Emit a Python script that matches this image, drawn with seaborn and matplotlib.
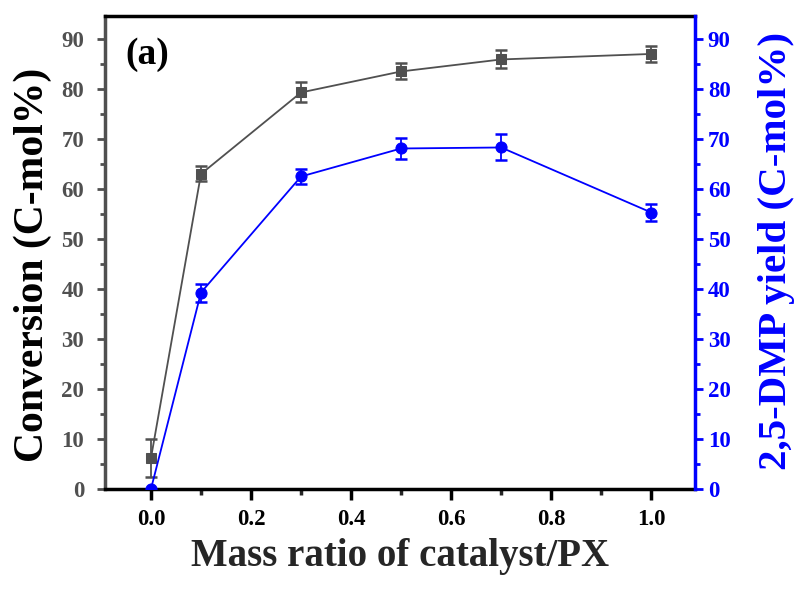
import matplotlib
matplotlib.use("Agg")
import matplotlib.pyplot as plt
import seaborn as sns
import pandas as pd
from matplotlib.ticker import MultipleLocator

# ---- data ----
mass_ratio = [0.0, 0.1, 0.3, 0.5, 0.7, 1.0]
conversion = [6.2, 63.0, 79.3, 83.5, 85.9, 87.0]
conversion_err = [3.8, 1.5, 2.0, 1.6, 1.8, 1.6]
dmp_yield = [0.0, 39.3, 62.5, 68.1, 68.3, 55.3]
dmp_yield_err = [0.0, 1.8, 1.5, 2.1, 2.6, 1.7]
x_ticks = [0.0, 0.2, 0.4, 0.6, 0.8, 1.0]
x_ticklabels = ["0.0", "0.2", "0.4", "0.6", "0.8", "1.0"]
y_ticks = [0, 10, 20, 30, 40, 50, 60, 70, 80, 90]

df = pd.DataFrame({"ratio": mass_ratio, "conv": conversion, "conv_err": conversion_err,
                   "yld": dmp_yield, "yld_err": dmp_yield_err})

sns.set_style("ticks")
plt.rcParams['font.family'] = ['Liberation Serif', 'DejaVu Serif']
plt.rcParams['font.weight'] = 'bold'
plt.rcParams['axes.labelweight'] = 'bold'

GRAY = "#505050"
BLUE = "#0000FF"

fig = plt.figure(figsize=(8.01, 5.90), dpi=100)
ax = fig.add_axes([0.131, 0.171, 0.737, 0.802])

sns.lineplot(data=df, x="ratio", y="conv", ax=ax, color=GRAY, marker="s", markersize=7,
             markeredgecolor=GRAY, linewidth=1.3, legend=False)
ax.errorbar(df["ratio"], df["conv"], yerr=df["conv_err"], fmt="none", ecolor=GRAY,
            elinewidth=1.3, capsize=4, capthick=1.8)

ax2 = ax.twinx()
sns.lineplot(data=df, x="ratio", y="yld", ax=ax2, color=BLUE, marker="o", markersize=8,
             markeredgecolor=BLUE, linewidth=1.3, legend=False, clip_on=True)
ax2.errorbar(df["ratio"][1:], df["yld"][1:], yerr=df["yld_err"][1:], fmt="none", ecolor=BLUE,
             elinewidth=1.3, capsize=4, capthick=1.8)

for a in (ax, ax2):
    a.set_xlim(-0.092, 1.088)
    a.set_ylim(0, 94.6)
    a.set_yticks(y_ticks)
    a.yaxis.set_minor_locator(MultipleLocator(5))

ax.set_xticks(x_ticks)
ax.set_xticklabels(x_ticklabels)
ax.xaxis.set_minor_locator(MultipleLocator(0.1))

# spines
for s in ax.spines.values():
    s.set_linewidth(2.5)
ax.spines["left"].set_color(GRAY)
ax.spines["bottom"].set_color("black")
ax.spines["top"].set_color("black")
ax.spines["right"].set_visible(False)
for name in ("left", "bottom", "top"):
    ax2.spines[name].set_visible(False)
ax2.spines["right"].set_color(BLUE)
ax2.spines["right"].set_linewidth(2.5)

ax.tick_params(axis="x", which="major", direction="out", length=8, width=2.5, labelsize=16.5,
               colors="black", pad=6, top=False)
ax.tick_params(axis="x", which="minor", direction="out", length=4, width=2.5, top=False)
ax.tick_params(axis="y", which="major", direction="out", length=6, width=2, labelsize=16.5,
               color=GRAY, labelcolor=GRAY, pad=9)
ax.tick_params(axis="y", which="minor", direction="out", length=3.5, width=2, color=GRAY)
ax2.tick_params(axis="y", which="major", direction="out", length=6, width=2, labelsize=16.5,
                color=BLUE, labelcolor=BLUE, pad=3)
ax2.tick_params(axis="y", which="minor", direction="out", length=3.5, width=2, color=BLUE)

for lab in ax.get_xticklabels() + ax.get_yticklabels() + ax2.get_yticklabels():
    lab.set_fontweight("bold")

ax.set_xlabel("Mass ratio of catalyst/PX", fontsize=28, fontweight="bold", labelpad=6)
ax.set_ylabel("Conversion (C-mol%)", fontsize=30, fontweight="bold", color="black")
ax2.set_ylabel("2,5-DMP yield (C-mol%)", fontsize=29.5, fontweight="bold", color=BLUE)
ax.yaxis.set_label_coords(-0.090, 0.474)
ax2.yaxis.set_label_coords(1.106, 0.503)

ax.text(0.034, 0.955, "(a)", transform=ax.transAxes, fontsize=27, fontweight="bold",
        ha="left", va="top", color="black")

fig.savefig("out.png", dpi=100)
